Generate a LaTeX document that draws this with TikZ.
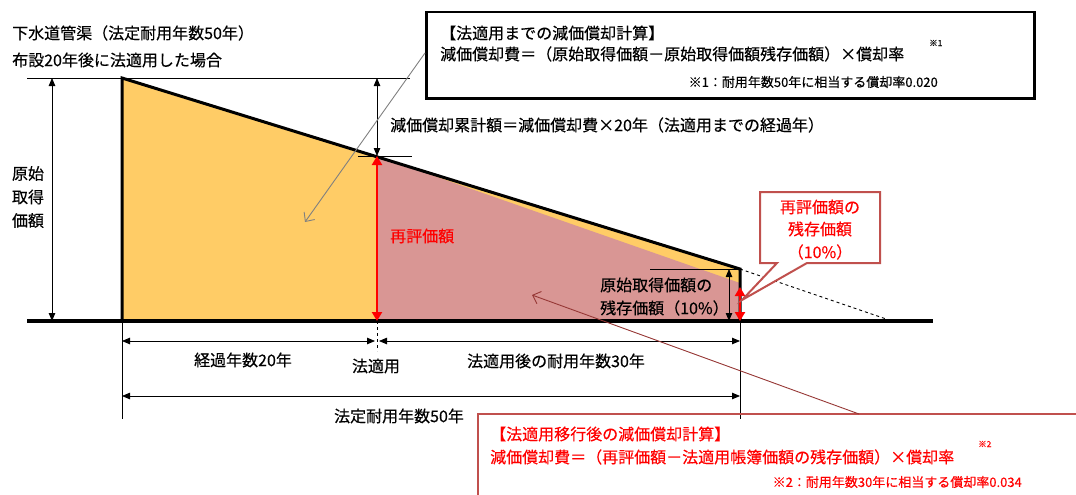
\documentclass[tikz,border=0pt]{standalone}
\usepackage{fontspec}
\setmainfont{Noto Sans CJK JP}[FakeBold=0.35]
\usetikzlibrary{arrows.meta}
\definecolor{orangefill}{RGB}{255,204,102}
\definecolor{redfill}{RGB}{217,150,148}
\definecolor{boxred}{RGB}{192,80,77}
\definecolor{darkred}{RGB}{150,55,53}
\definecolor{txtred}{RGB}{255,0,0}
\begin{document}
\begin{tikzpicture}[x=1pt,y=-1pt,
  lbl/.style={inner sep=0pt, font=\fontsize{16}{18}\selectfont},
  note/.style={inner sep=0pt, font=\fontsize{13}{15}\selectfont},
  supm/.style={inner sep=0pt, font=\fontsize{8.5}{9}\selectfont},
  dimarr/.style={line width=0.8pt, {Triangle[length=8pt,width=6.5pt]}-{Triangle[length=8pt,width=6.5pt]}},
  redarr/.style={line width=2.5pt, draw=txtred, {Triangle[length=9pt,width=10pt]}-{Triangle[length=9pt,width=10pt]}},
  thinline/.style={line width=0.8pt},
  pointer/.style={line width=0.9pt, -{Straight Barb[length=7pt,width=13pt]}}
]
\path[use as bounding box] (0,0) rectangle (1076,495);
\begin{scope}
\clip (0,0) rectangle (1076,495);

% key coordinates
\coordinate (A) at (122,78);
\coordinate (B) at (740,269);
\coordinate (C) at (740,321);
\coordinate (D) at (122,321);
\coordinate (M) at (377,156);
\coordinate (Mb) at (377,321);
\coordinate (R) at (740,283);
\coordinate (DE) at (892,321);
\coordinate (BL) at (27,321);
\coordinate (BR) at (933,321);
\coordinate (TL) at (27,78);
\coordinate (TR) at (410,78);

% fills
\fill[orangefill] (A) -- (B) -- (C) -- (D) -- cycle;
\fill[redfill] (M) -- (R) -- (C) -- (Mb) -- cycle;
\draw[line width=3pt, line join=miter] (D) -- (A) -- (B) -- (C);
\draw[dashed, line width=0.9pt] (B) -- (DE);
\draw[line width=3.5pt] (BL) -- (BR);
\draw[thinline] (TL) -- (TR);

% left dimension
\coordinate (la1) at (52,78);
\coordinate (la2) at (52,321);
\draw[dimarr] (la1) -- (la2);
\node[lbl, align=center, font=\fontsize{16}{23.5}\selectfont] (gen) at (28,197) {原始\\取得\\価額};

% depreciation cumulative
\coordinate (ua1) at (377,78);
\draw[dimarr] (ua1) -- (M);
\coordinate (tk1) at (358,156);
\coordinate (tk2) at (412,156);
\draw[thinline] (tk1) -- (tk2);
\draw[redarr] (M) -- (Mb);
\node[lbl, anchor=west] (cum) at (390,125) {減価償却累計額＝減価償却費×20年（法適用までの経過年）};
\node[lbl, anchor=west, text=txtred] (rev) at (390,236) {再評価額};

% residual
\coordinate (tk3) at (650,269);
\draw[thinline] (tk3) -- (B);
\coordinate (ra1) at (729,269);
\coordinate (ra2) at (729,321);
\draw[dimarr] (ra1) -- (ra2);
\coordinate (rr1) at (740,287);
\draw[redarr] (rr1) -- (C);
\node[lbl, anchor=west] (res1) at (600,285) {原始取得価額の};
\node[lbl, anchor=west] (res2) at (600,308) {残存価額（10\%）};

% callout
\draw[boxred, line width=2pt, fill=white, line join=miter]
  (760,192) -- (880,192) -- (880,263) -- (807,263) -- (742,300) -- (777,263) -- (760,263) -- cycle;
\node[lbl, text=txtred] (c1) at (820,207) {再評価額の};
\node[lbl, text=txtred] (c2) at (820,229) {残存価額};
\node[lbl, text=txtred] (c3) at (820,252) {（10\%）};

% title
\node[lbl, anchor=west] (t1) at (12,33) {下水道管渠（法定耐用年数50年）};
\node[lbl, anchor=west] (t2) at (12,60) {布設20年後に法適用した場合};

% bottom dimensions
\coordinate (v1) at (122,419);
\coordinate (v2) at (740,419);
\coordinate (vd) at (377,351);
\draw[thinline] (D) -- (v1);
\draw[thinline] (C) -- (v2);
\draw[thinline, dashed] (Mb) -- (vd);
\coordinate (r1a) at (122,341);
\coordinate (r1b) at (375,341);
\coordinate (r1c) at (379,341);
\coordinate (r1d) at (740,341);
\draw[dimarr] (r1a) -- (r1b);
\draw[dimarr] (r1c) -- (r1d);
\coordinate (r2a) at (122,396);
\coordinate (r2b) at (740,396);
\draw[dimarr] (r2a) -- (r2b);
\node[lbl] (y20) at (243,360) {経過年数20年};
\node[lbl] (hou) at (376,366) {法適用};
\node[lbl] (y30) at (556,361) {法適用後の耐用年数30年};
\node[lbl] (y50) at (399,416) {法定耐用年数50年};

% top box
\node[draw, line width=2.5pt, minimum width=608pt, minimum height=86pt, anchor=north west, inner sep=0pt] (box1) at (425,11) {};
\node[lbl, anchor=west] (b1l1) at (440,33) {【法適用までの減価償却計算】};
\node[lbl, anchor=west] (b1l2) at (440,54) {減価償却費＝（原始取得価額－原始取得価額残存価額）×償却率};
\node[supm, anchor=west] (b1s) at (929,43) {※1};
\node[note, anchor=east] (b1l3) at (938,82) {※1：耐用年数50年に相当する償却率0.020};

% bottom box (runs off the page to the right and bottom)
\draw[boxred, line width=2.5pt, line join=miter] (1120,414) -- (478,414) -- (478,540);
\node[lbl, anchor=west, text=txtred] (b2l1) at (490,434) {【法適用移行後の減価償却計算】};
\node[lbl, anchor=west, text=txtred] (b2l2) at (490,457) {減価償却費＝（再評価額－法適用帳簿価額の残存価額）×償却率};
\node[supm, anchor=west, text=txtred] (b2s) at (978,444) {※2};
\node[note, anchor=east, text=txtred] (b2l3) at (1022,482) {※2：耐用年数30年に相当する償却率0.034};

% pointer arrows
\coordinate (g1) at (425,53);
\coordinate (g2) at (305,222);
\draw[pointer, gray] (g1) -- (g2);
\coordinate (d1) at (859,414);
\coordinate (d2) at (532,295);
\draw[pointer, darkred] (d1) -- (d2);
\end{scope}
\end{tikzpicture}
\end{document}
